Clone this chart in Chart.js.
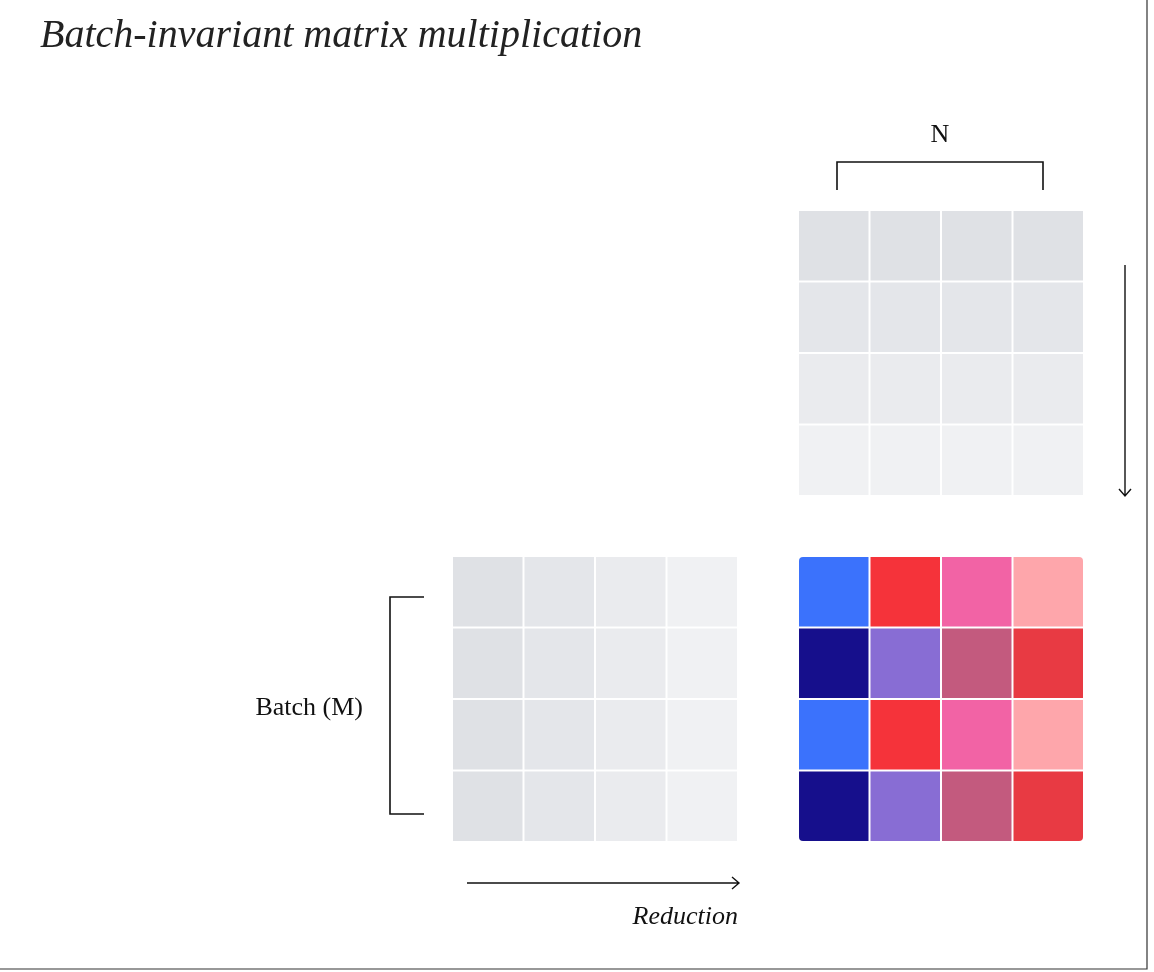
<!DOCTYPE html>
<html>
<head>
<meta charset="utf-8">
<script src="https://cdn.jsdelivr.net/npm/chart.js@4/dist/chart.umd.min.js"></script>
<style>
  html, body { margin: 0; padding: 0; background: #fff; }
  #wrap { width: 1154px; height: 972px; position: relative; }
</style>
</head>
<body>
<div id="wrap"><canvas id="c" width="1154" height="972"></canvas></div>
<script>
// data
var title = "Batch-invariant matrix multiplication";
var nLabel = "N";
var batchLabel = "Batch (M)";
var reductionLabel = "Reduction";
var gridSize = 4;
// shade of each row of the top (weights) matrix, and each column of the left (inputs) matrix
var topRowShades = ["#dfe1e5", "#e4e6ea", "#eaebee", "#f0f1f3"];
var leftColShades = ["#dfe1e5", "#e4e6ea", "#eaebee", "#f0f1f3"];
// output matrix colours, row by row
var outputRows = [
  ["#3b72fc", "#f5333a", "#f263a5", "#fea6ab"],
  ["#160f8c", "#886dd4", "#c35a7e", "#e83a43"],
  ["#3b72fc", "#f5333a", "#f263a5", "#fea6ab"],
  ["#160f8c", "#886dd4", "#c35a7e", "#e83a43"]
];

// layout (in scale units)
var cell = 71.5;
var gap = 2;
var topOrigin = [799, 211];
var leftOrigin = [453, 557];
var outOrigin = [799, 557];

function drawGrid(ctx, xs, ys, origin, colorAt, rounded) {
  for (var r = 0; r < gridSize; r++) {
    for (var c = 0; c < gridSize; c++) {
      var x0 = xs.getPixelForValue(origin[0] + c * cell);
      var x1 = xs.getPixelForValue(origin[0] + (c + 1) * cell - gap);
      var y0 = ys.getPixelForValue(origin[1] + r * cell);
      var y1 = ys.getPixelForValue(origin[1] + (r + 1) * cell - gap);
      ctx.fillStyle = colorAt(r, c);
      ctx.beginPath();
      if (rounded) {
        var rad = 4;
        ctx.roundRect(x0, y0, x1 - x0, y1 - y0, {
          tl: r === 0 && c === 0 ? rad : 0,
          tr: r === 0 && c === gridSize - 1 ? rad : 0,
          bl: r === gridSize - 1 && c === 0 ? rad : 0,
          br: r === gridSize - 1 && c === gridSize - 1 ? rad : 0
        });
        ctx.roundRect(x0, y0, x1 - x0, y1 - y0, [
          r === 0 && c === 0 ? rad : 0,
          r === 0 && c === gridSize - 1 ? rad : 0,
          r === gridSize - 1 && c === gridSize - 1 ? rad : 0,
          r === gridSize - 1 && c === 0 ? rad : 0
        ]);
      } else {
        ctx.rect(x0, y0, x1 - x0, y1 - y0);
      }
      ctx.fill();
    }
  }
}

var diagram = {
  id: "diagram",
  afterDraw: function(chart) {
    var ctx = chart.ctx, xs = chart.scales.x, ys = chart.scales.y;
    function px(v) { return xs.getPixelForValue(v); }
    function py(v) { return ys.getPixelForValue(v); }
    ctx.save();

    drawGrid(ctx, xs, ys, topOrigin, function(r) { return topRowShades[r]; }, false);
    drawGrid(ctx, xs, ys, leftOrigin, function(r, c) { return leftColShades[c]; }, false);
    ctx.beginPath();
    drawGridOut();
    function drawGridOut() {
      for (var r = 0; r < gridSize; r++) {
        for (var c = 0; c < gridSize; c++) {
          var x0 = px(outOrigin[0] + c * cell), x1 = px(outOrigin[0] + (c + 1) * cell - gap);
          var y0 = py(outOrigin[1] + r * cell), y1 = py(outOrigin[1] + (r + 1) * cell - gap);
          var rad = 4;
          ctx.fillStyle = outputRows[r][c];
          ctx.beginPath();
          ctx.roundRect(x0, y0, x1 - x0, y1 - y0, [
            r === 0 && c === 0 ? rad : 0,
            r === 0 && c === gridSize - 1 ? rad : 0,
            r === gridSize - 1 && c === gridSize - 1 ? rad : 0,
            r === gridSize - 1 && c === 0 ? rad : 0
          ]);
          ctx.fill();
        }
      }
    }

    // brackets and arrows
    ctx.strokeStyle = "#111";
    ctx.lineWidth = 1.6;
    ctx.beginPath();
    ctx.moveTo(px(837), py(190)); ctx.lineTo(px(837), py(162));
    ctx.lineTo(px(1043), py(162)); ctx.lineTo(px(1043), py(190));
    ctx.stroke();
    ctx.beginPath();
    ctx.moveTo(px(424), py(597)); ctx.lineTo(px(390), py(597));
    ctx.lineTo(px(390), py(814)); ctx.lineTo(px(424), py(814));
    ctx.stroke();
    ctx.lineWidth = 1.4;
    ctx.beginPath();
    ctx.moveTo(px(1125), py(265)); ctx.lineTo(px(1125), py(496));
    ctx.moveTo(px(1119), py(489)); ctx.lineTo(px(1125), py(496)); ctx.lineTo(px(1131), py(489));
    ctx.moveTo(px(467), py(883)); ctx.lineTo(px(739), py(883));
    ctx.moveTo(px(732), py(877)); ctx.lineTo(px(739), py(883)); ctx.lineTo(px(732), py(889));
    ctx.stroke();

    // texts
    ctx.fillStyle = "#222";
    ctx.textBaseline = "alphabetic";
    ctx.font = "italic 40px 'Liberation Serif', serif";
    ctx.textAlign = "left";
    ctx.fillText(title, px(40), py(47));
    ctx.fillStyle = "#111";
    ctx.font = "26px 'Liberation Serif', serif";
    ctx.textAlign = "center";
    ctx.fillText(nLabel, px(940), py(142));
    ctx.textAlign = "right";
    ctx.fillText(batchLabel, px(363), py(715));
    ctx.font = "italic 26px 'Liberation Serif', serif";
    ctx.fillText(reductionLabel, px(738), py(924));

    // frame
    ctx.strokeStyle = "#333";
    ctx.lineWidth = 1.2;
    ctx.beginPath();
    ctx.moveTo(px(1147), py(0)); ctx.lineTo(px(1147), py(969)); ctx.lineTo(px(0), py(969));
    ctx.stroke();
    ctx.restore();
  }
};

new Chart(document.getElementById("c"), {
  type: "scatter",
  data: { datasets: [] },
  options: {
    responsive: false,
    animation: false,
    layout: { padding: 0 },
    plugins: { legend: { display: false }, tooltip: { enabled: false } },
    scales: {
      x: { type: "linear", min: 0, max: 1154, display: false },
      y: { type: "linear", min: 0, max: 972, reverse: true, display: false }
    }
  },
  plugins: [diagram]
});
</script>
</body>
</html>
